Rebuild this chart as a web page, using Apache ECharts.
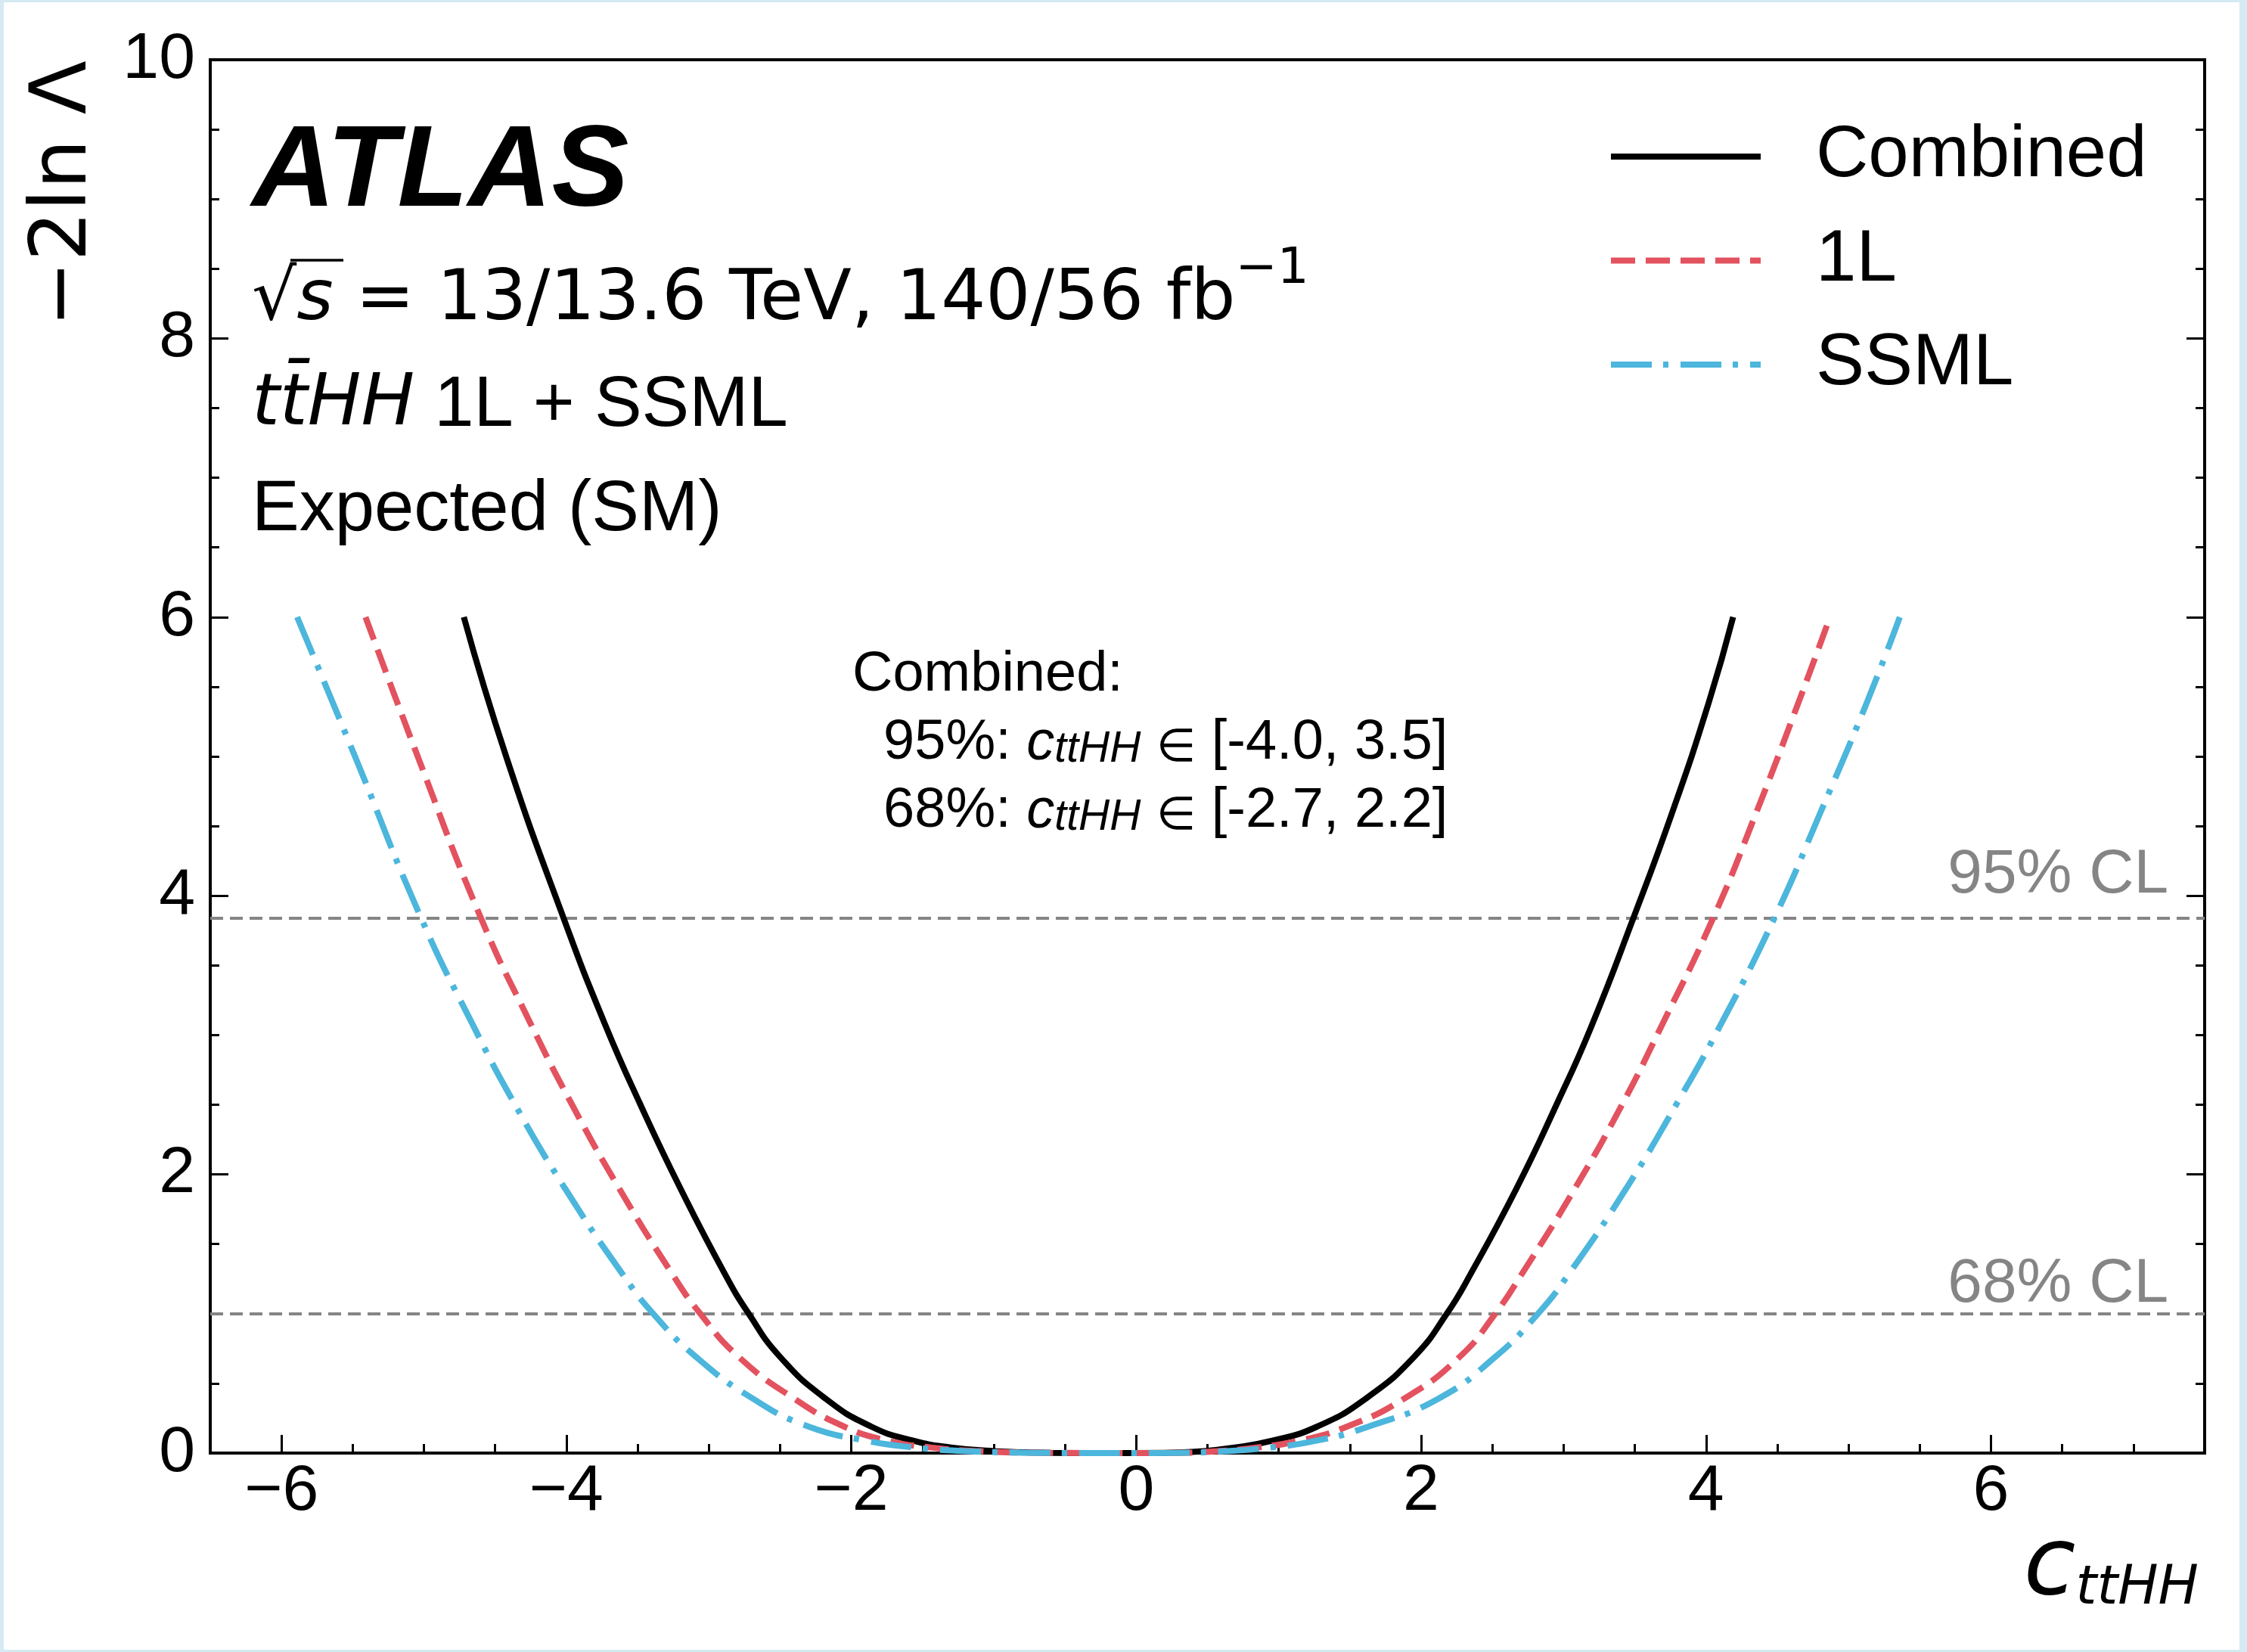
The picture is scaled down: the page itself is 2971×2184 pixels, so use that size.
<!DOCTYPE html>
<html>
<head>
<meta charset="utf-8">
<script src="https://cdn.jsdelivr.net/npm/echarts@6/dist/echarts.min.js"></script>
<style>
  html, body { margin: 0; padding: 0; background: #fff; }
  #chart { width: 2971px; height: 2184px; }
  #edge {
    position: absolute; left: 0; top: 0; width: 2971px; height: 2184px; box-sizing: border-box;
    border-style: solid; border-color: #d5eaf3; border-width: 3px 10px 3px 5px; pointer-events: none;
  }
</style>
</head>
<body>
<div id="chart"></div>
<div id="edge"></div>
<script>
// -2 ln Lambda scan vs c_ttHH
const combined = [
  [-4.72, 6.0], [-4.42, 4.99], [-4.02, 3.84], [-3.73, 3.08], [-3.48, 2.5], [-3.20, 1.9],
  [-2.89, 1.29], [-2.72, 1.0], [-2.50, 0.69], [-2.18, 0.39], [-1.86, 0.19], [-1.57, 0.09],
  [-1.30, 0.04], [-1.0, 0.014], [-0.6, 0.002], [-0.2, 0.0], [0.2, 0.001], [0.45, 0.012],
  [0.66, 0.035], [0.96, 0.09], [1.27, 0.19], [1.61, 0.39], [1.95, 0.69], [2.18, 1.0],
  [2.35, 1.29], [2.67, 1.9], [2.95, 2.5], [3.19, 3.05], [3.49, 3.84], [3.76, 4.59],
  [4.02, 5.39], [4.19, 6.0]
];
const oneL = [
  [-5.41, 6.0], [-5.04, 4.99], [-4.60, 3.84], [-4.25, 3.08], [-3.96, 2.5], [-3.63, 1.9],
  [-3.26, 1.29], [-3.06, 1.0], [-2.79, 0.69], [-2.40, 0.39], [-2.05, 0.19], [-1.75, 0.09],
  [-1.44, 0.04], [-1.1, 0.013], [-0.6, 0.002], [-0.1, 0.0], [0.3, 0.002], [0.55, 0.012],
  [0.81, 0.035], [1.15, 0.09], [1.48, 0.19], [1.88, 0.39], [2.27, 0.69], [2.52, 1.0],
  [2.71, 1.29], [3.08, 1.9], [3.41, 2.5], [3.68, 3.05], [4.05, 3.84], [4.35, 4.59],
  [4.65, 5.39], [4.87, 6.0]
];
const ssml = [
  [-5.89, 6.0], [-5.48, 4.99], [-5.02, 3.84], [-4.66, 3.08], [-4.36, 2.5], [-4.01, 1.9],
  [-3.61, 1.29], [-3.39, 1.0], [-3.09, 0.69], [-2.69, 0.39], [-2.30, 0.19], [-1.90, 0.09],
  [-1.56, 0.04], [-1.2, 0.014], [-0.7, 0.002], [-0.1, 0.0], [0.3, 0.002], [0.6, 0.012],
  [0.90, 0.035], [1.27, 0.09], [1.63, 0.19], [2.12, 0.39], [2.52, 0.69], [2.82, 1.0],
  [3.04, 1.29], [3.44, 1.9], [3.79, 2.5], [4.09, 3.05], [4.48, 3.84], [4.80, 4.59],
  [5.13, 5.39], [5.36, 6.0]
];
const seriesNames = ['Combined', '1L', 'SSML'];
const clLevels = [3.84, 1.0];
const clNames = ['95% CL', '68% CL'];
const xMajor = [-6, -4, -2, 0, 2, 4, 6];

const HELV = '"Liberation Sans", Arial, sans-serif';
const DEJA = '"DejaVu Sans", sans-serif';

const chart = echarts.init(document.getElementById('chart'), null, { renderer: 'canvas' });

const tickStyle = { color: '#000', width: 3 };
const minus = v => String(v).replace('-', '\u2212');
// label offsets above the CL lines differ in the figure
const clLabelDist = [[48, 15], [48, -3]];

const option = {
  backgroundColor: '#fff',
  animation: false,
  grid: { left: 278, right: 56, top: 79, bottom: 263, show: true, borderColor: '#000', borderWidth: 4 },
  xAxis: [
    {
      type: 'value', min: -6.5, max: 7.5, position: 'bottom',
      axisLine: { show: true, onZero: false, lineStyle: { color: '#000', width: 4 } },
      axisTick: { show: true, inside: true, length: 24, lineStyle: tickStyle, customValues: xMajor },
      axisLabel: {
        customValues: xMajor, margin: 8, fontSize: 86, color: '#000', fontFamily: HELV,
        formatter: minus
      },
      splitLine: { show: false }
    },
    {
      type: 'value', min: -6.5, max: 7.5, interval: 0.5, position: 'bottom',
      axisLine: { show: false, onZero: false },
      axisTick: { show: true, inside: true, length: 12, lineStyle: tickStyle },
      axisLabel: { show: false },
      splitLine: { show: false }
    }
  ],
  yAxis: [
    {
      type: 'value', min: 0, max: 10, interval: 2, position: 'left',
      axisLine: { show: true, onZero: false, lineStyle: { color: '#000', width: 4 } },
      axisTick: { show: true, inside: true, length: 24, lineStyle: tickStyle },
      minorTick: { show: true, splitNumber: 4, length: 12, lineStyle: tickStyle },
      axisLabel: { margin: 20, fontSize: 86, color: '#000', fontFamily: HELV },
      splitLine: { show: false }
    },
    {
      type: 'value', min: 0, max: 10, interval: 2, position: 'right',
      axisLine: { show: true, onZero: false, lineStyle: { color: '#000', width: 4 } },
      axisTick: { show: true, inside: true, length: 24, lineStyle: tickStyle },
      minorTick: { show: true, splitNumber: 4, length: 12, lineStyle: tickStyle },
      axisLabel: { show: false },
      splitLine: { show: false }
    }
  ],
  legend: {
    data: seriesNames, orient: 'vertical', left: 2126, top: 159, padding: 0,
    itemWidth: 198, itemHeight: 8, itemGap: 41.5,
    lineStyle: { width: 8 },
    itemStyle: { opacity: 0 },
    textStyle: { fontSize: 96, lineHeight: 96, color: '#000', fontFamily: HELV, padding: [0, 0, 0, 68] }
  },
  series: [
    {
      name: seriesNames[0], type: 'line', data: combined, smooth: 0.5,
      symbol: 'none', clip: true,
      lineStyle: { color: '#000', width: 8 },
      itemStyle: { color: '#000' },
      markLine: {
        silent: true, symbol: 'none', z: 1,
        lineStyle: { color: '#858585', width: 4, type: [17, 9] },
        label: {
          position: 'insideEndTop', formatter: '{b}', fontSize: 82, color: '#858585',
          fontFamily: HELV
        },
        data: clLevels.map((v, i) => ({ yAxis: v, name: clNames[i], label: { distance: clLabelDist[i] } }))
      }
    },
    {
      name: seriesNames[1], type: 'line', data: oneL, smooth: 0.5,
      symbol: 'none', clip: true,
      lineStyle: { color: '#e3525f', width: 8, type: [32, 14] },
      itemStyle: { color: '#e3525f' }
    },
    {
      name: seriesNames[2], type: 'line', data: ssml, smooth: 0.5,
      symbol: 'none', clip: true,
      lineStyle: { color: '#4cb6dc', width: 8, type: [54, 15, 7, 16] },
      itemStyle: { color: '#4cb6dc' }
    }
  ],
  graphic: [
    {
      type: 'text', x: 333, y: 230,
      style: { text: 'ATLAS', fontSize: 153, fontWeight: 'bold', fontStyle: 'italic', fontFamily: HELV,
        fill: '#000', align: 'left', verticalAlign: 'middle' }
    },
    {
      type: 'text', x: 333, y: 384,
      style: {
        text: '{n|\u221a}{i|s}{n| = 13/13.6 TeV, 140/56 fb}{p|\u22121}',
        align: 'left', verticalAlign: 'middle', fill: '#000',
        rich: {
          n: { fontSize: 93, lineHeight: 120, fontFamily: DEJA, verticalAlign: 'bottom' },
          i: { fontSize: 93, lineHeight: 120, fontFamily: DEJA, fontStyle: 'italic', verticalAlign: 'bottom' },
          p: { fontSize: 66, lineHeight: 66, fontFamily: DEJA, verticalAlign: 'top' }
        }
      }
    },
    {
      type: 'line', shape: { x1: 384, y1: 344, x2: 454, y2: 344 },
      style: { stroke: '#000', lineWidth: 3.5 }
    },
    {
      type: 'text', x: 333, y: 537,
      style: {
        text: '{i|tt\u0304HH}{n| 1L + SSML}',
        align: 'left', verticalAlign: 'middle', fill: '#000',
        rich: {
          i: { fontSize: 94, lineHeight: 94, fontFamily: DEJA, fontStyle: 'italic', verticalAlign: 'bottom' },
          n: { fontSize: 94, lineHeight: 94, fontFamily: HELV, verticalAlign: 'bottom' }
        }
      }
    },
    {
      type: 'text', x: 333, y: 675,
      style: { text: 'Expected (SM)', fontSize: 94, fontFamily: HELV, fill: '#000', align: 'left', verticalAlign: 'middle' }
    },
    {
      type: 'text', x: 1127, y: 840,
      style: {
        text: '{n|Combined:}\n{n|\u00a0\u00a095%: }{c|c}{s|ttHH}{n| }{e|\u2208}{n| [-4.0, 3.5]}\n{n|\u00a0\u00a068%: }{c|c}{s|ttHH}{n| }{e|\u2208}{n| [-2.7, 2.2]}',
        align: 'left', verticalAlign: 'top', fill: '#000',
        rich: {
          n: { fontSize: 74, lineHeight: 90, fontFamily: HELV, verticalAlign: 'bottom' },
          e: { fontSize: 60, lineHeight: 84, fontFamily: DEJA, verticalAlign: 'bottom' },
          c: { fontSize: 74, lineHeight: 90, fontFamily: HELV, fontStyle: 'italic', verticalAlign: 'bottom' },
          s: { fontSize: 57, lineHeight: 44, fontFamily: HELV, fontStyle: 'italic', verticalAlign: 'bottom' }
        }
      }
    },
    {
      type: 'text', x: 2907, y: 2012,
      style: {
        text: '{c|c}{s|ttHH}', align: 'right', verticalAlign: 'top', fill: '#000',
        rich: {
          c: { fontSize: 125, lineHeight: 125, fontFamily: DEJA, fontStyle: 'italic', verticalAlign: 'bottom' },
          s: { fontSize: 71, lineHeight: 56, fontFamily: DEJA, fontStyle: 'italic', verticalAlign: 'bottom' }
        }
      }
    },
    {
      type: 'text', x: 86, y: 80, rotation: Math.PI / 2,
      style: { text: '\u22122ln \u039b', fontSize: 104, fontFamily: DEJA, fill: '#000', align: 'right', verticalAlign: 'middle' }
    }
  ]
};

chart.setOption(option);
</script>
</body>
</html>
